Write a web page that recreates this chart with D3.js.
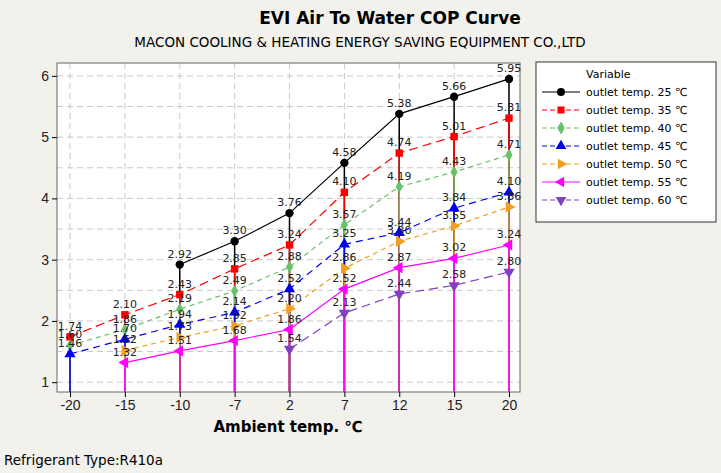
<!DOCTYPE html>
<html><head><meta charset="utf-8">
<script src="https://cdn.jsdelivr.net/npm/d3@7"></script>
<style>
body{margin:0;background:#f3f1ec;font-family:Tahoma,"DejaVu Sans",sans-serif;}
</style></head>
<body><svg width="721" height="473"></svg>
<script>
const ambient = ["-20", "-15", "-10", "-7", "2", "7", "12", "15", "20"];
const yTicks = [1, 2, 3, 4, 5, 6];
const names = ["outlet temp. 25 ℃", "outlet temp. 35 ℃", "outlet temp. 40 ℃", "outlet temp. 45 ℃",
  "outlet temp. 50 ℃", "outlet temp. 55 ℃", "outlet temp. 60 ℃"];
const t25 = [null, null, 2.92, 3.30, 3.76, 4.58, 5.38, 5.66, 5.95];
const t35 = [1.74, 2.10, 2.43, 2.85, 3.24, 4.10, 4.74, 5.01, 5.31];
const t40 = [1.60, 1.86, 2.19, 2.49, 2.88, 3.57, 4.19, 4.43, 4.71];
const t45 = [1.46, 1.70, 1.94, 2.14, 2.52, 3.25, 3.44, 3.84, 4.10];
const t50 = [null, 1.52, 1.73, 1.92, 2.20, 2.86, 3.30, 3.55, 3.86];
const t55 = [null, 1.32, 1.51, 1.68, 1.86, 2.52, 2.87, 3.02, 3.24];
const t60 = [null, null, null, null, 1.54, 2.13, 2.44, 2.58, 2.80];

const series = [t25, t35, t40, t45, t50, t55, t60];
const colors = ["#000000", "#ff0000", "#66c266", "#0000ee", "#f0a020", "#ff00ff", "#8040c0"];
const dashes = [null, "9,5", "5,4", "7,5", "5,4", null, "9,5"];
const shapes = [d3.symbolCircle, d3.symbolSquare, d3.symbolDiamond, d3.symbolTriangle,
  d3.symbolTriangle, d3.symbolTriangle, d3.symbolTriangle];
const rots = [0, 0, 0, 0, 90, -90, 180];

const svg = d3.select("svg");
const L = 57, R = 520, T = 63, B = 392;
const x = d3.scalePoint().domain(ambient).range([70, 509]);
const y = d3.scaleLinear().domain([0.84, 6.21]).range([B, T]);

svg.append("rect").attr("x", L).attr("y", T).attr("width", R - L).attr("height", B - T)
  .attr("fill", "#fff");

// grid
const g = svg.append("g").attr("stroke", "#c8c8c8").attr("stroke-dasharray", "6,4");
g.selectAll(".h").data(d3.range(1, 6.01, 0.5)).enter().append("line")
  .attr("x1", L).attr("x2", R).attr("y1", d => y(d)).attr("y2", d => y(d));
g.selectAll(".v").data(ambient).enter().append("line")
  .attr("x1", d => x(d)).attr("x2", d => x(d)).attr("y1", T).attr("y2", B);

svg.append("rect").attr("x", L).attr("y", T).attr("width", R - L).attr("height", B - T)
  .attr("fill", "none").attr("stroke", "#666");

// drop lines
series.slice(0, 6).forEach((s, i) => {
  svg.append("g").selectAll("line").data(s.map((v, j) => [ambient[j], v]).filter(d => d[1] != null))
    .enter().append("line")
    .attr("x1", d => x(d[0])).attr("x2", d => x(d[0]))
    .attr("y1", d => y(d[1])).attr("y2", B)
    .attr("stroke", colors[i]).attr("stroke-width", 1.5);
});

const line = d3.line().defined(d => d[1] != null).x(d => x(d[0])).y(d => y(d[1]));
series.forEach((s, i) => {
  const pts = s.map((v, j) => [ambient[j], v]);
  svg.append("path").attr("d", line(pts)).attr("fill", "none")
    .attr("stroke", colors[i]).attr("stroke-width", 1.2).attr("stroke-dasharray", dashes[i]);
  const ok = pts.filter(d => d[1] != null);
  svg.append("g").selectAll("path").data(ok).enter().append("path")
    .attr("d", d3.symbol(shapes[i], i == 2 ? 45 : 55))
    .attr("transform", d => `translate(${x(d[0])},${y(d[1])}) rotate(${rots[i]})`)
    .attr("fill", colors[i]);
  svg.append("g").selectAll("text").data(ok).enter().append("text")
    .attr("x", d => x(d[0])).attr("y", d => y(d[1]) - 7)
    .attr("text-anchor", "middle").attr("font-size", 11).attr("fill", "#222")
    .text(d => d[1].toFixed(2));
});

// axes
const ya = svg.append("g").attr("transform", `translate(${L},0)`)
  .call(d3.axisLeft(y).tickValues(yTicks).tickSize(5).tickFormat(d3.format("d")));
const xa = svg.append("g").attr("transform", `translate(0,${B})`)
  .call(d3.axisBottom(x).tickSize(5));
[ya, xa].forEach(a => { a.select(".domain").remove(); a.selectAll("text").attr("font-size", 14).attr("fill", "#222"); });

svg.append("text").attr("x", 390).attr("y", 24).attr("text-anchor", "middle")
  .attr("font-size", 17).attr("font-weight", "bold").text("EVI Air To Water COP Curve");
svg.append("text").attr("x", 360).attr("y", 47).attr("text-anchor", "middle")
  .attr("font-size", 13.5).text("MACON COOLING & HEATING ENERGY SAVING EQUIPMENT CO.,LTD");
svg.append("text").attr("x", 288).attr("y", 432).attr("text-anchor", "middle")
  .attr("font-size", 15).attr("font-weight", "bold").text("Ambient temp. ℃");
svg.append("text").attr("x", 4).attr("y", 465).attr("font-size", 13.5).text("Refrigerant Type:R410a");

// legend
const lg = svg.append("g").attr("transform", "translate(536,62)");
lg.append("rect").attr("width", 180).attr("height", 160).attr("fill", "#fff").attr("stroke", "#333");
lg.append("text").attr("x", 50).attr("y", 16).attr("font-size", 11).text("Variable");
names.forEach((n, i) => {
  const yy = 30 + i * 18;
  lg.append("line").attr("x1", 6).attr("x2", 44).attr("y1", yy).attr("y2", yy)
    .attr("stroke", colors[i]).attr("stroke-width", 1.2).attr("stroke-dasharray", dashes[i] ? "5,3" : null);
  lg.append("path").attr("d", d3.symbol(shapes[i], 50))
    .attr("transform", `translate(25,${yy}) rotate(${rots[i]})`).attr("fill", colors[i]);
  lg.append("text").attr("x", 50).attr("y", yy + 4).attr("font-size", 11).text(n);
});
</script></body></html>
